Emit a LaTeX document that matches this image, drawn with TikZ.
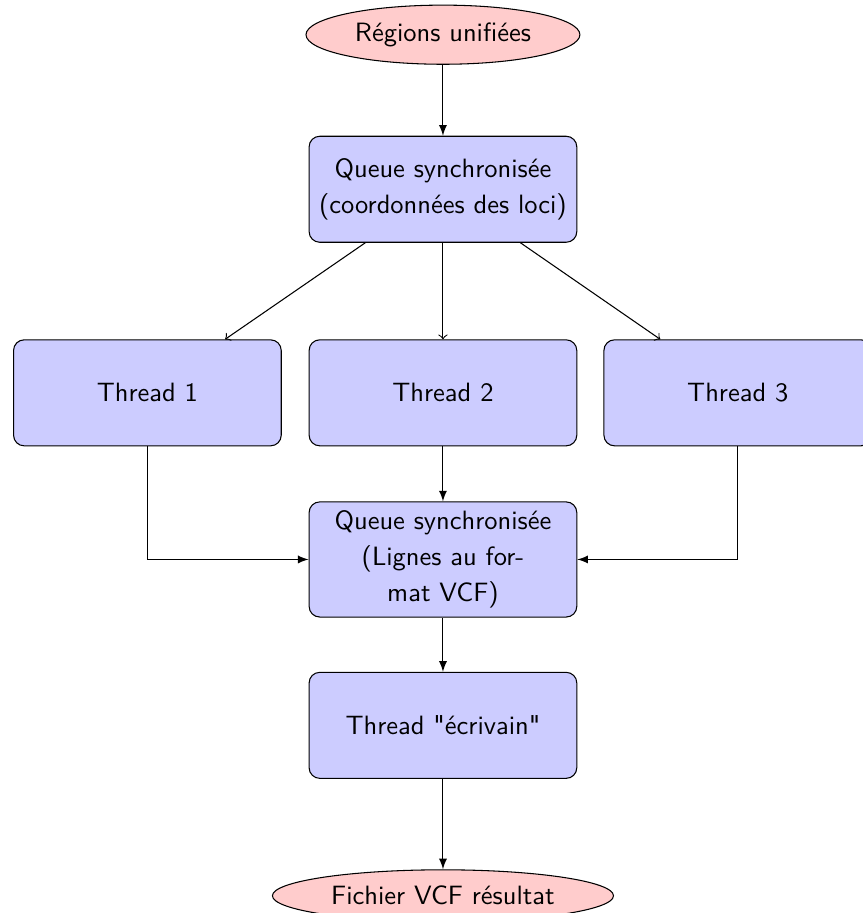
\documentclass[tikz,border=0pt]{standalone}
\usepackage{tikz}
\usetikzlibrary{shapes.geometric,arrows}

\tikzset{
    bloc/.style={rectangle, draw, fill=blue!20, rounded corners, minimum width=3.55cm, minimum height=4em, align=center},
    donnee/.style={ellipse, draw, fill=red!20}
}

\begin{document}
\begin{tikzpicture}[font=\linespread{1.13}\selectfont\sffamily]
        \useasboundingbox (-5.875,0) rectangle (5.571,-12.109);
        % Nodes
        \node (reg) [donnee] at (0,-0.46) {Régions unifiées};
        \node (q1) [bloc] at (0,-2.51) {Queue synchronisée\\(coordonnées des loci)};
        \node (t1) [bloc] at (-3.92,-5.21) {Thread 1};
        \node (t2) [bloc] at (0,-5.21) {Thread 2};
        \node (t3) [bloc] at (3.91,-5.21) {Thread 3};
        \node (q2) [bloc] at (0,-7.42) {Queue synchronisée\\(Lignes au for-\\mat VCF)};
        \node (ecr) [bloc] at (0,-9.62) {Thread \textquotedbl écrivain\textquotedbl};
        \node (res) [donnee] at (0,-11.88) {Fichier VCF résultat};

        % Edges
        \draw[-latex] (reg) -- (q1);
        \draw[->] (q1) -- (t1);
        \draw[->] (q1) -- (t2);
        \draw[->] (q1) -- (t3);
        \draw[-latex] (t1) |- (q2);
        \draw[-latex] (t2) -- (q2);
        \draw[-latex] (t3) |- (q2);
        \draw[-latex] (q2) -- (ecr);
        \draw[-latex] (ecr) -- (res);

    \end{tikzpicture}
\end{document}
